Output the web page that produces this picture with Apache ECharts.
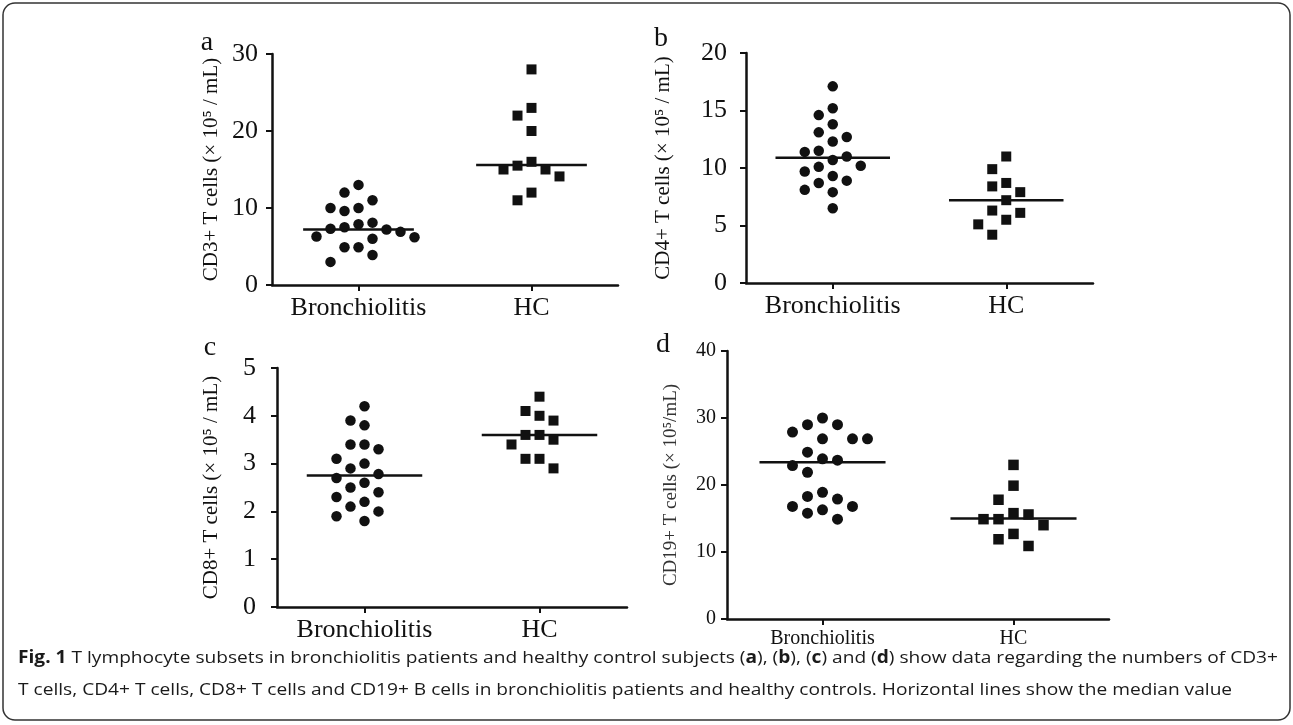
<!DOCTYPE html>
<html>
<head>
<meta charset="utf-8">
<script src="https://cdn.jsdelivr.net/npm/echarts@6/dist/echarts.min.js"></script>
<style>
html,body{margin:0;padding:0;background:#fff;}
#chart{width:1293px;height:725px;}
</style>
</head>
<body>
<div id="chart"></div>
<script>
// ---------------- DATA ----------------
const categories = ['Bronchiolitis', 'HC'];

const cd3Bronchiolitis = [11, 10, 12, 9.6, 13, 10, 7.9, 7.3, 6.9, 7.2, 7.5, 8.1, 6.2, 4.9, 4.9, 6.0, 6.3, 3.9, 3.0];
const cd3HC = [28, 23, 22, 20, 15.5, 15, 16, 14.1, 15, 12, 11];
const cd3Median = [7.2, 15.6];

const cd4Bronchiolitis = [17.1, 15.2, 14.6, 13.8, 13.1, 12.7, 12.3, 11.5, 11.4, 11.0, 10.7, 10.1, 10.2, 9.7, 9.3, 8.9, 8.7, 8.1, 7.9, 6.5];
const cd4HC = [11.0, 9.9, 8.4, 8.7, 7.9, 7.2, 6.1, 6.3, 5.5, 5.1, 4.2];
const cd4Median = [10.9, 7.2];

const cd8Bronchiolitis = [4.2, 3.9, 3.8, 3.4, 3.4, 3.3, 3.1, 3.0, 2.9, 2.78, 2.7, 2.6, 2.5, 2.4, 2.3, 2.2, 2.1, 2.0, 1.9, 1.8];
const cd8HC = [4.4, 4.1, 4.0, 3.9, 3.6, 3.6, 3.5, 3.4, 3.1, 3.1, 2.9];
const cd8Median = [2.75, 3.6];

const cd19Bronchiolitis = [30, 29, 29, 27.9, 26.9, 26.9, 26.9, 24.9, 23.7, 23.9, 22.9, 21.9, 18.9, 18.3, 17.9, 16.8, 16.8, 16.3, 15.8, 14.9];
const cd19HC = [23, 19.9, 17.8, 15.6, 15.8, 14.9, 14.9, 14.0, 12.7, 11.9, 10.9];
const cd19Median = [23.4, 15.0];

const yAxisMax = [30, 20, 5, 40];
const yAxisInterval = [10, 5, 1, 10];
const yAxisNames = ['CD3+ T cells (× 10⁵ / mL)', 'CD4+ T cells (× 10⁵ / mL)', 'CD8+ T cells (× 10⁵ / mL)', 'CD19+ T cells (× 10⁵/mL)'];
const panelLetters = ['a', 'b', 'c', 'd'];

const captionLine1 = [['b', 'Fig. 1'], ['n', ' T lymphocyte subsets in bronchiolitis patients and healthy control subjects ('], ['b', 'a'], ['n', '), ('], ['b', 'b'], ['n', '), ('], ['b', 'c'], ['n', ') and ('], ['b', 'd'], ['n', ') show data regarding the numbers of CD3+']];
const captionLine2 = [['n', 'T cells, CD4+ T cells, CD8+ T cells and CD19+ B cells in bronchiolitis patients and healthy controls. Horizontal lines show the median value']];

// ---------------- LAYOUT / STYLE ----------------
const panelData = [
  [cd3Bronchiolitis, cd3HC, cd3Median],
  [cd4Bronchiolitis, cd4HC, cd4Median],
  [cd8Bronchiolitis, cd8HC, cd8Median],
  [cd19Bronchiolitis, cd19HC, cd19Median]
];
const layout = [
  {grid: {left: 272, top: 54, width: 346, height: 231}, tick: 26, tickMargin: 14, cat: 26, nameSize: 21, nameGap: 50, letter: [207, 43], sym: 10.5, sq: 10, step: 14, lineHalf: 0.32},
  {grid: {left: 746, top: 53, width: 347, height: 230}, tick: 26, tickMargin: 19, cat: 26, nameSize: 21, nameGap: 72, letter: [661, 39], sym: 10.5, sq: 10, step: 14, lineHalf: 0.33},
  {grid: {left: 277, top: 368, width: 350, height: 239}, tick: 26, tickMargin: 21, cat: 26, nameSize: 21, nameGap: 55, letter: [210, 348], sym: 10.5, sq: 10, step: 14, lineHalf: 0.33},
  {grid: {left: 727, top: 351, width: 382, height: 268}, tick: 20, tickMargin: 11, cat: 20, nameSize: 19, nameGap: 46, letter: [663, 345], sym: 11, sq: 10.5, step: 15, lineHalf: 0.33}
];
const INK = '#111';
const SERIF = '"Liberation Serif", "DejaVu Serif", serif';

// beeswarm: assign each value a column slot so that markers in a column keep a minimum vertical gap
function swarmSlots(values, pxPerUnit, minGapPx) {
  const order = values.map((v, i) => i).sort((a, b) => values[b] - values[a]);
  const cols = {};
  const slots = new Array(values.length).fill(0);
  const cands = [0, -1, 1, -2, 2, 3, -3, 4, -4, 5, -5];
  order.forEach(i => {
    for (const c of cands) {
      const list = cols[c] || [];
      if (list.every(v => Math.abs(v - values[i]) * pxPerUnit >= minGapPx)) {
        slots[i] = c;
        cols[c] = list;
        list.push(values[i]);
        break;
      }
    }
  });
  return slots;
}

const grids = [], xAxes = [], yAxes = [], series = [], graphics = [];

layout.forEach((L, k) => {
  grids.push(Object.assign({containLabel: false}, L.grid));
  xAxes.push({
    type: 'category', gridIndex: k, data: categories,
    axisLine: {lineStyle: {color: INK, width: 2.5}},
    axisTick: {show: true, alignWithLabel: true, interval: 0, length: 6, lineStyle: {color: INK, width: 2}},
    axisLabel: {interval: 0, hideOverlap: false, fontFamily: SERIF, fontSize: L.cat, color: INK, margin: 10}
  });
  yAxes.push({
    type: 'value', gridIndex: k, min: 0, max: yAxisMax[k], interval: yAxisInterval[k],
    axisLine: {show: true, lineStyle: {color: INK, width: 2.5}},
    axisTick: {show: true, length: 6, lineStyle: {color: INK, width: 2}},
    splitLine: {show: false},
    axisLabel: {fontFamily: SERIF, fontSize: L.tick, color: INK, margin: L.tickMargin},
    name: yAxisNames[k], nameLocation: 'middle', nameRotate: 90, nameGap: L.nameGap,
    nameTextStyle: {fontFamily: SERIF, fontSize: L.nameSize, color: k === 3 ? '#333' : INK}
  });
  const pxPerUnit = L.grid.height / yAxisMax[k];
  const [bro, hc, med] = panelData[k];
  const mk = (vals, cat) => {
    const slots = swarmSlots(vals, pxPerUnit, 16);
    return vals.map((v, i) => ({value: [cat, v], symbolOffset: [slots[i] * L.step, 0]}));
  };
  series.push({
    type: 'scatter', xAxisIndex: k, yAxisIndex: k, symbol: 'circle', symbolSize: L.sym,
    itemStyle: {color: INK, opacity: 1}, data: mk(bro, 0), z: 3, silent: true
  });
  series.push({
    type: 'scatter', xAxisIndex: k, yAxisIndex: k, symbol: 'rect', symbolSize: L.sq,
    itemStyle: {color: INK, opacity: 1}, data: mk(hc, 1), z: 3, silent: true
  });
  series.push({
    type: 'custom', xAxisIndex: k, yAxisIndex: k, z: 2, silent: true,
    data: med.map((m, i) => [i, m]),
    renderItem: (params, api) => {
      const p = api.coord([api.value(0), api.value(1)]);
      const bw = api.size([1, 0])[0];
      const hw = bw * L.lineHalf;
      return {type: 'line', shape: {x1: p[0] - hw, y1: p[1], x2: p[0] + hw, y2: p[1]},
              style: {stroke: INK, lineWidth: 2.5}};
    }
  });
  graphics.push({
    type: 'text', x: L.letter[0], y: L.letter[1],
    style: {text: panelLetters[k], font: '28px ' + SERIF, fill: INK, align: 'center', verticalAlign: 'middle'}
  });
});

// caption
const CAP_FONT = '"Open Sans", "Noto Sans", sans-serif';
const CAP_SIZE = 17;
function measure(segs) {
  const ctx = document.createElement('canvas').getContext('2d');
  let w = 0;
  segs.forEach(([t, s]) => {
    ctx.font = (t === 'b' ? 'bold ' : '') + CAP_SIZE + 'px ' + CAP_FONT;
    w += ctx.measureText(s).width;
  });
  return w;
}
const capScale = 1260 / measure(captionLine1);
const richText = segs => segs.map(([t, s]) => '{' + t + '|' + s + '}').join('');
const capRich = {
  b: {fontFamily: CAP_FONT, fontSize: CAP_SIZE, fontWeight: 'bold', fill: '#1a1a1a'},
  n: {fontFamily: CAP_FONT, fontSize: CAP_SIZE, fill: '#1a1a1a'}
};
[[captionLine1, 658], [captionLine2, 690]].forEach(([segs, y]) => {
  graphics.push({
    type: 'text', x: 18, y: y, scaleX: capScale,
    style: {text: richText(segs), rich: capRich, verticalAlign: 'middle', align: 'left'}
  });
});
graphics.push({
  type: 'rect', shape: {x: 3, y: 3, width: 1287, height: 717, r: 12}, z: -1,
  style: {fill: 'none', stroke: '#333', lineWidth: 1.5}
});

const chart = echarts.init(document.getElementById('chart'), null, {renderer: 'canvas'});
chart.setOption({
  animation: false,
  backgroundColor: '#fff',
  grid: grids, xAxis: xAxes, yAxis: yAxes, series: series, graphic: graphics
});
</script>
</body>
</html>
